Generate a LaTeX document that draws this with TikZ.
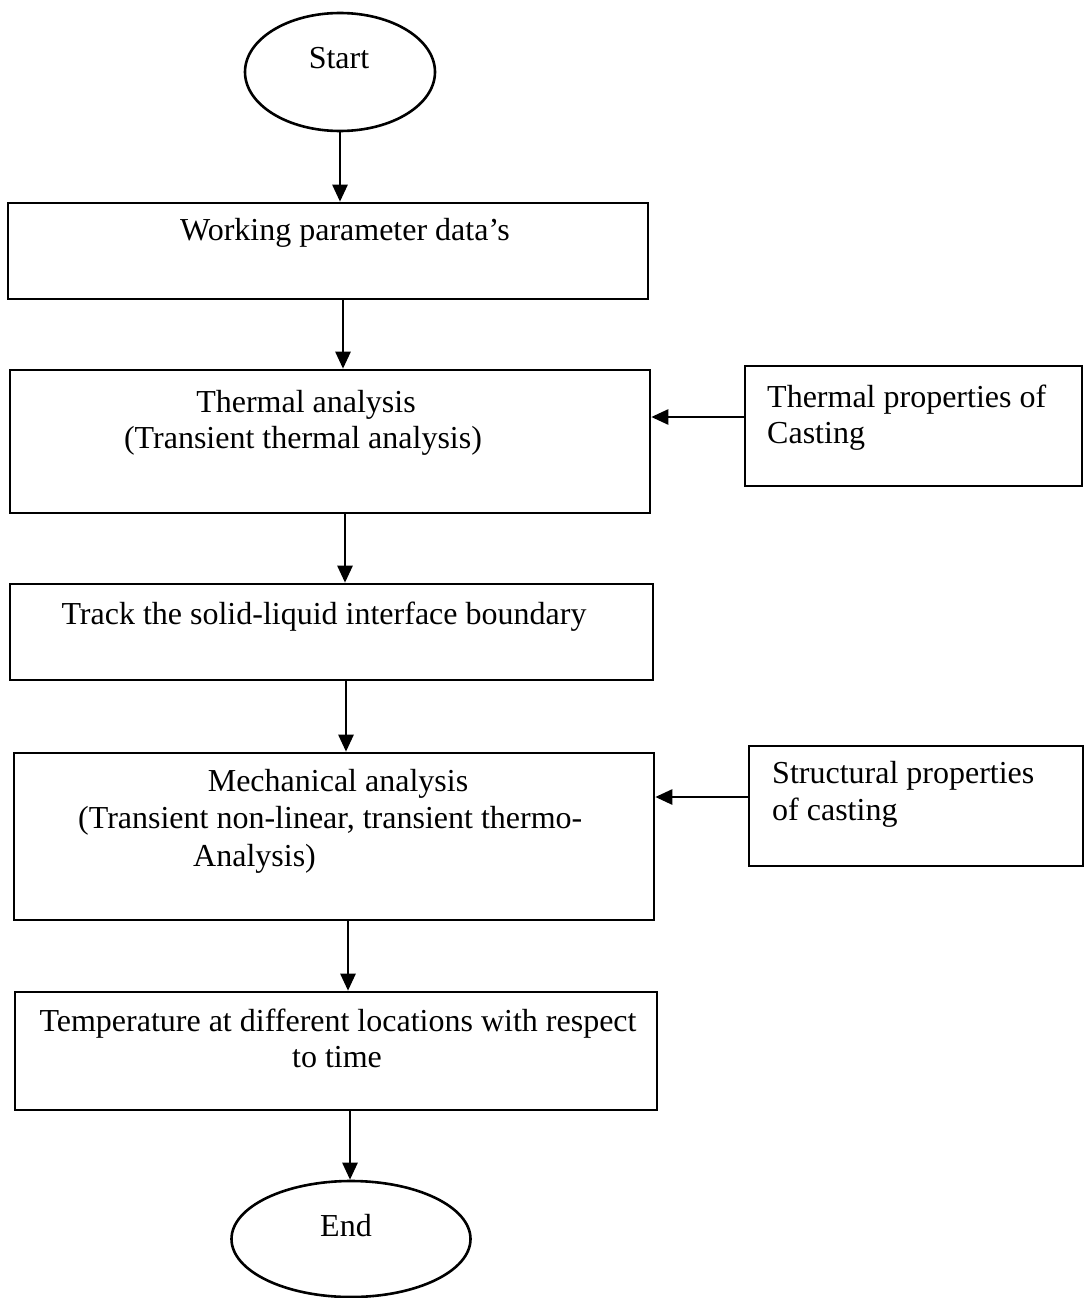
\documentclass[tikz,border=0pt]{standalone}
\usepackage{fontspec}
\setmainfont{Liberation Serif}
\usetikzlibrary{arrows.meta,shapes.geometric}
\begin{document}
\begin{tikzpicture}[x=1pt,y=-1pt,
  box/.style={draw,line width=2.6pt,rectangle,inner sep=0pt},
  term/.style={draw,line width=2.6pt,ellipse,inner sep=0pt},
  txt/.style={anchor=base,inner sep=0pt,font=\fontsize{32}{37}\selectfont},
  txtl/.style={anchor=base west,inner sep=0pt,font=\fontsize{32}{37}\selectfont},
  arr/.style={line width=2.6pt,-{Triangle[length=17pt,width=15pt]}}]
\useasboundingbox[fill=white] (0,0) rectangle (1087,1298);
% terminals
\node[term,minimum width=190pt,minimum height=118pt] (start) at (340,72) {};
\node[term,minimum width=239pt,minimum height=116pt] (end) at (351,1239) {};
% boxes
\node[box,minimum width=640pt,minimum height=96pt] (b1) at (328,251) {};
\node[box,minimum width=640pt,minimum height=143pt] (b2) at (330,441.5) {};
\node[box,minimum width=643pt,minimum height=96pt] (b3) at (331.5,632) {};
\node[box,minimum width=640pt,minimum height=167pt] (b4) at (334,836.5) {};
\node[box,minimum width=642pt,minimum height=118pt] (b5) at (336,1051) {};
\node[box,minimum width=337pt,minimum height=120pt] (r1) at (913.5,426) {};
\node[box,minimum width=334pt,minimum height=120pt] (r2) at (916,806) {};
% texts
\node[txt] (tstart) at (339,68) {Start};
\node[txt] (t1) at (345,240) {Working parameter data’s};
\node[txt] (t2a) at (306,412) {Thermal analysis};
\node[txt] (t2b) at (303,448) {(Transient thermal analysis)};
\node[txt] (t3) at (324,624) {Track the solid-liquid interface boundary};
\node[txt] (t4a) at (338,791) {Mechanical analysis};
\node[txtl] (t4b) at (78,828) {(Transient non-linear, transient thermo-};
\node[txtl] (t4c) at (193,866) {Analysis)};
\node[txt] (t5a) at (338,1031) {Temperature at different locations with respect};
\node[txt] (t5b) at (337,1067) {to time};
\node[txtl] (tr1a) at (767,407) {Thermal properties of};
\node[txtl] (tr1b) at (767,443) {Casting};
\node[txtl] (tr2a) at (772,783) {Structural properties};
\node[txtl] (tr2b) at (772,820) {of casting};
\node[txt] (tend) at (346,1236) {End};
% connector coordinates
\coordinate (x0) at (340,0);
\coordinate (x1) at (343,0);
\coordinate (x2) at (345,0);
\coordinate (x3) at (346,0);
\coordinate (x4) at (348,0);
\coordinate (x5) at (350,0);
\coordinate (y1) at (0,417);
\coordinate (y2) at (0,797);
% connectors
\draw[arr] (start.south -| x0) -- (b1.north -| x0);
\draw[arr] (b1.south -| x1) -- (b2.north -| x1);
\draw[arr] (b2.south -| x2) -- (b3.north -| x2);
\draw[arr] (b3.south -| x3) -- (b4.north -| x3);
\draw[arr] (b4.south -| x4) -- (b5.north -| x4);
\draw[arr] (b5.south -| x5) -- (end.north -| x5);
\draw[arr] (r1.west |- y1) -- (b2.east |- y1);
\draw[arr] (r2.west |- y2) -- (b4.east |- y2);
\end{tikzpicture}
\end{document}
